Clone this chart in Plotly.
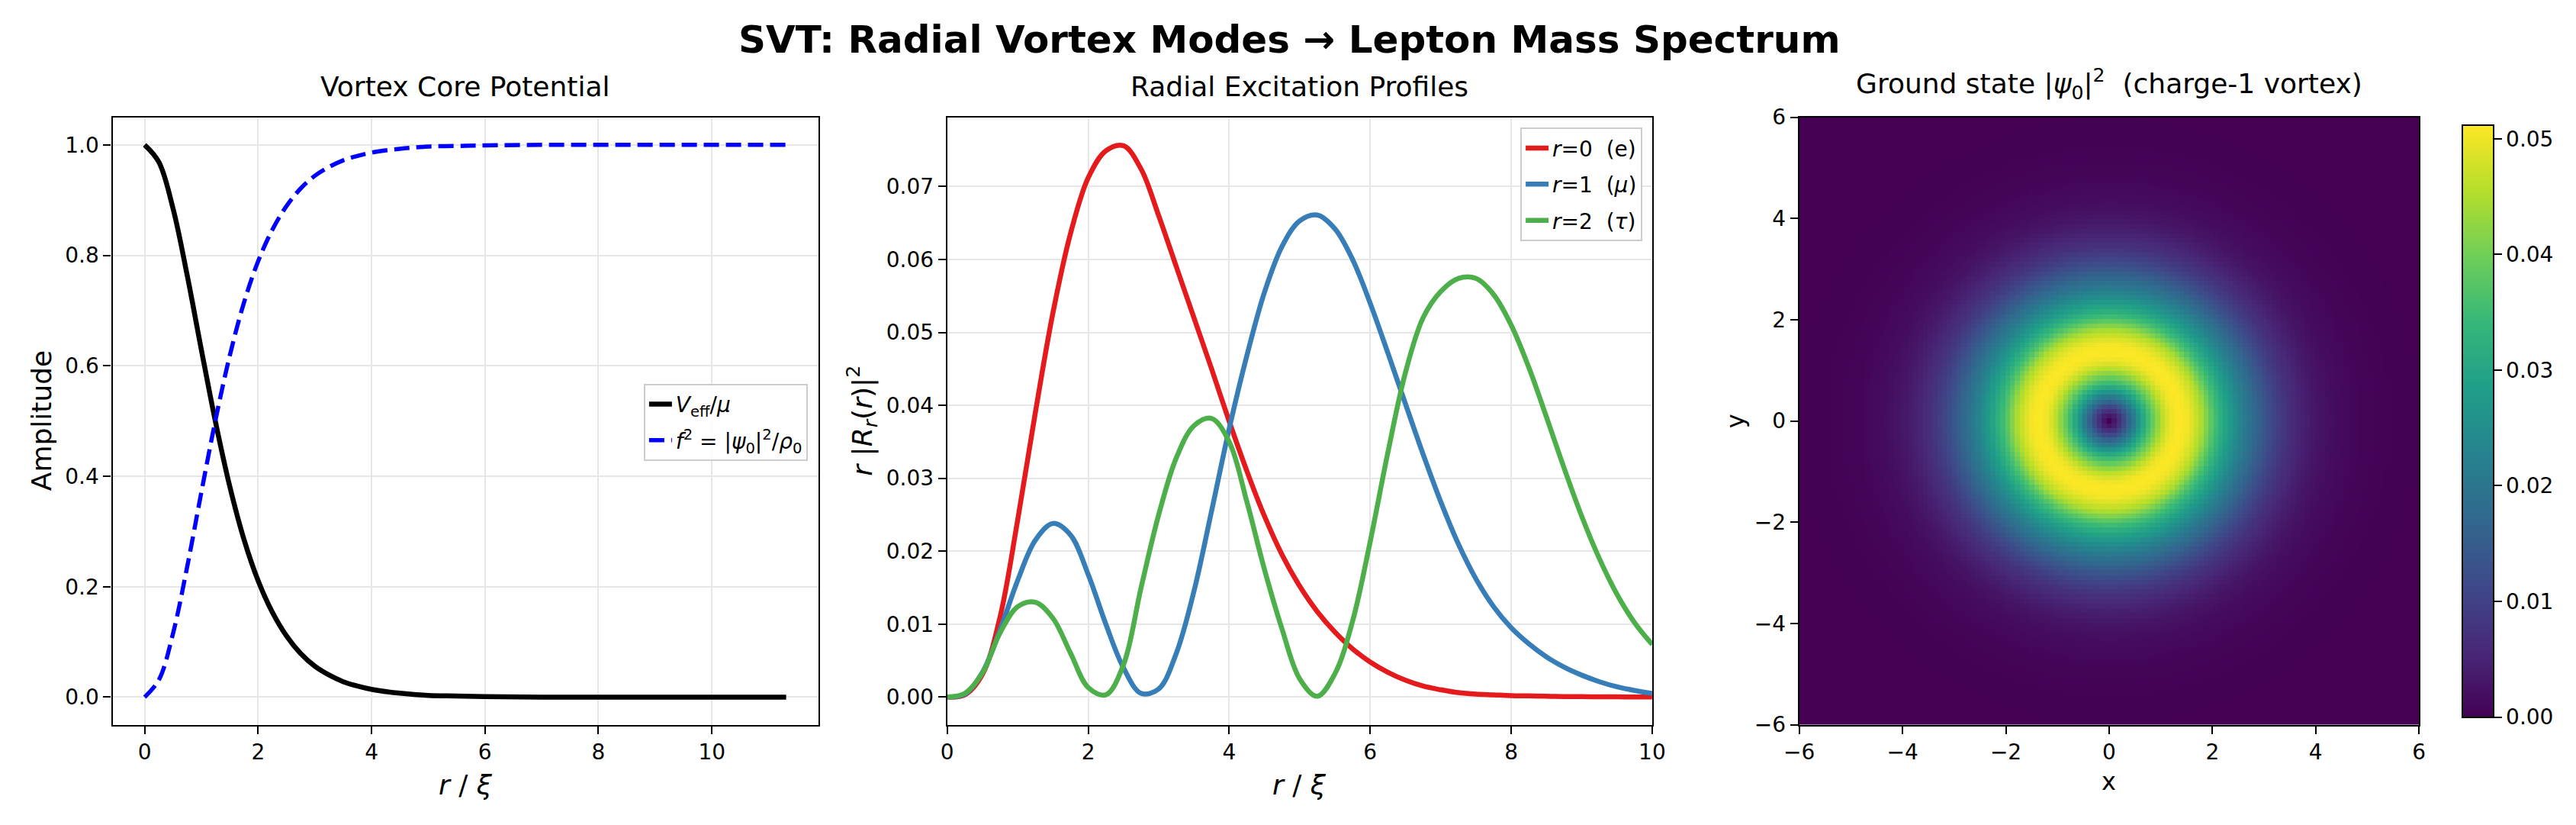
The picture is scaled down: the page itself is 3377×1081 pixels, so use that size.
import numpy as np
import plotly.graph_objects as go

# ---------------- data ----------------
# Left panel: vortex core potential
r_core = [0, 0.25, 0.5, 0.75, 1.0, 1.25, 1.5, 1.75, 2.0, 2.25, 2.5, 2.75, 3.0,
          3.25, 3.5, 3.75, 4.0, 4.5, 5.0, 5.5, 6.0, 7.0, 8.0, 9.0, 10.0, 11.31]
v_eff = [1.0, 0.969, 0.885, 0.764, 0.629, 0.498, 0.382, 0.286, 0.211, 0.154, 0.111,
         0.079, 0.056, 0.040, 0.028, 0.020, 0.014, 0.007, 0.003, 0.002, 0.001, 0.0,
         0.0, 0.0, 0.0, 0.0]
f_sq = [0.0, 0.031, 0.115, 0.236, 0.371, 0.502, 0.618, 0.714, 0.789, 0.846, 0.889,
        0.921, 0.944, 0.960, 0.972, 0.980, 0.986, 0.993, 0.997, 0.998, 0.999, 1.0,
        1.0, 1.0, 1.0, 1.0]

# Middle panel: radial excitation profiles r|R_r(r)|^2, sampled every 0.25 in r/xi
r_modes = [0, 0.25, 0.5, 0.75, 1.0, 1.25, 1.5, 1.75, 2.0, 2.25, 2.5, 2.75, 3.0, 3.25,
           3.5, 3.75, 4.0, 4.25, 4.5, 4.75, 5.0, 5.25, 5.5, 5.75, 6.0, 6.25, 6.5, 6.75,
           7.0, 7.25, 7.5, 7.75, 8.0, 8.25, 8.5, 8.75, 9.0, 9.25, 9.5, 9.75, 10.0]
v_e = [0, 0.0003, 0.0031, 0.0110, 0.0243, 0.0390, 0.0527, 0.0636, 0.0712, 0.0749,
       0.0756, 0.0724, 0.0660, 0.0590, 0.0520, 0.0450, 0.0378, 0.0310, 0.0248, 0.0195,
       0.0152, 0.0117, 0.0089, 0.0066, 0.0048, 0.0034, 0.0023, 0.0015, 0.0010, 0.0006,
       0.0004, 0.0003, 0.0002, 0.00015, 0.0001, 0.00007, 0.00005, 0.00003, 0.00002,
       0.00001, 0.0]
v_mu = [0, 0.0004, 0.0034, 0.0092, 0.0160, 0.0215, 0.0238, 0.0222, 0.0168, 0.0100,
        0.0040, 0.0005, 0.0011, 0.0060, 0.0145, 0.0255, 0.0368, 0.0468, 0.0555, 0.0618,
        0.0653, 0.0661, 0.0642, 0.0600, 0.0540, 0.0472, 0.0402, 0.0333, 0.0268, 0.0210,
        0.0162, 0.0124, 0.0095, 0.0073, 0.0055, 0.0041, 0.0030, 0.0021, 0.0014, 0.0009,
        0.0005]
v_tau = [0, 0.0005, 0.0033, 0.0088, 0.0124, 0.0130, 0.0108, 0.0060, 0.0013, 0.0003,
         0.0044, 0.0150, 0.0250, 0.0328, 0.0372, 0.0382, 0.0350, 0.0268, 0.0175, 0.0093,
         0.0025, 0.0001, 0.0032, 0.0104, 0.0213, 0.0335, 0.0445, 0.0520, 0.0556, 0.0574,
         0.0574, 0.0552, 0.0510, 0.0452, 0.0384, 0.0314, 0.0248, 0.0190, 0.0141, 0.0102,
         0.0072]

# Right panel: radial profile of |psi_0|^2 (read along a ray from the centre)
ring_r = [0, 0.15, 0.3, 0.45, 0.6, 0.75, 0.9, 1.05, 1.2, 1.35, 1.5, 1.65, 1.8, 2.0,
          2.2, 2.45, 2.7, 2.95, 3.2, 3.45, 3.7, 4.0, 4.4, 4.8, 5.3, 6.0, 7.0, 8.5]
ring_val = [0, 0.005, 0.012, 0.020, 0.028, 0.035, 0.041, 0.0465, 0.050, 0.0512,
            0.0505, 0.048, 0.0445, 0.037, 0.031, 0.025, 0.0195, 0.0148, 0.0105,
            0.0072, 0.0050, 0.0030, 0.0015, 0.0007, 0.00025, 0.00006, 0.00001, 0.0]
grid_n = 129
grid_lim = 6.0

# ---------------- figure ----------------
W, H = 3377, 1081
FONT = "DejaVu Sans"
TICK = 28
LAB = 36

fig = go.Figure()

fig.add_trace(go.Scatter(x=r_core, y=v_eff, mode="lines", line=dict(color="black", width=6.5, shape="spline"),
                         name="<i>V</i><sub>eff</sub>/<i>μ</i>", legendgroup="a",
                         xaxis="x", yaxis="y", legend="legend"))
fig.add_trace(go.Scatter(x=r_core, y=f_sq, mode="lines",
                         line=dict(color="#0000ff", width=5.5, dash="20px,9px", shape="spline"),
                         name="<i>f</i><sup>2</sup> = |<i>ψ</i><sub>0</sub>|<sup>2</sup>/<i>ρ</i><sub>0</sub>",
                         legendgroup="b", xaxis="x", yaxis="y", legend="legend"))

for vv, col, nm, g in [(v_e, "#e41a1c", "<i>r</i>=0  (e)", "c"),
                       (v_mu, "#377eb8", "<i>r</i>=1  (<i>μ</i>)", "d"),
                       (v_tau, "#4daf4a", "<i>r</i>=2  (<i>τ</i>)", "e")]:
    fig.add_trace(go.Scatter(x=r_modes, y=vv, mode="lines", line=dict(color=col, width=6.5, shape="spline"),
                             name=nm, legendgroup=g, xaxis="x2", yaxis="y2", legend="legend2"))

gx = np.linspace(-grid_lim, grid_lim, grid_n)
GX, GY = np.meshgrid(gx, gx)
Z = np.interp(np.hypot(GX, GY), ring_r, ring_val)
fig.add_trace(go.Heatmap(x=gx, y=gx, z=Z, colorscale="Viridis", zmin=0, zmax=0.0512,
                         xaxis="x3", yaxis="y3", showlegend=False,
                         colorbar=dict(x=3234 / W, xanchor="left", thickness=41, thicknessmode="pixels",
                                       len=821 / H, lenmode="fraction", y=1 - 963 / H, yanchor="bottom",
                                       outlinecolor="black", outlinewidth=2, ticks="outside", ticklen=10,
                                       tickwidth=2, tickcolor="black", tickformat=".2f", dtick=0.01, tick0=0,
                                       tickfont=dict(family=FONT, size=TICK, color="black"))))

ydom = [1 - 963 / H, 1 - 142 / H]
axbase = dict(showline=True, linecolor="black", linewidth=2.2, mirror=True, ticks="outside",
              ticklen=10, tickwidth=2.2, tickcolor="black", zeroline=False,
              tickfont=dict(family=FONT, size=TICK, color="black"))
grid = dict(showgrid=True, gridcolor="#e6e6e6", gridwidth=2)


def ann(text, x, y, size, angle=0, xanchor="center", yanchor="middle"):
    return dict(text=text, x=x / W, y=1 - y / H, xref="paper", yref="paper", showarrow=False,
                xanchor=xanchor, yanchor=yanchor, textangle=angle,
                font=dict(family=FONT, size=size, color="black"))


ymid = (142 + 963) / 2
fig.update_layout(
    width=W, height=H, margin=dict(l=0, r=0, t=0, b=0),
    paper_bgcolor="white", plot_bgcolor="white",
    font=dict(family=FONT, color="black"),
    xaxis=dict(domain=[128 / W, 1064 / W], range=[-0.566, 11.876], dtick=2, tick0=0, **axbase, **grid),
    yaxis=dict(domain=ydom, range=[-0.05, 1.05], dtick=0.2, tick0=0, tickformat=".1f", **axbase, **grid),
    xaxis2=dict(domain=[1235 / W, 2170 / W], range=[0, 10], dtick=2, tick0=0, anchor="y2", **axbase, **grid),
    yaxis2=dict(domain=ydom, range=[-0.0038, 0.0795], dtick=0.01, tick0=0, tickformat=".2f", anchor="x2",
                **axbase, **grid),
    xaxis3=dict(domain=[2365 / W, 3187 / W], range=[-6, 6], dtick=2, tick0=0, anchor="y3",
                showgrid=False, **axbase),
    yaxis3=dict(domain=ydom, range=[-6, 6], dtick=2, tick0=0, anchor="x3", showgrid=False, **axbase),
    legend=dict(x=1050 / W, xanchor="right", y=1 - 502 / H, yanchor="top",
                bgcolor="rgba(255,255,255,0.85)", bordercolor="#cccccc", borderwidth=2,
                font=dict(family=FONT, size=28, color="black"), tracegroupgap=8),
    legend2=dict(x=2157 / W, xanchor="right", y=1 - 156 / H, yanchor="top",
                 bgcolor="rgba(255,255,255,0.85)", bordercolor="#cccccc", borderwidth=2,
                 font=dict(family=FONT, size=28, color="black"), tracegroupgap=8),
    annotations=[
        ann("<b>SVT: Radial Vortex Modes → Lepton Mass Spectrum</b>", W / 2, 37, 50),
        ann("Vortex Core Potential", (128 + 1064) / 2, 124, 36, yanchor="bottom"),
        ann("Radial Excitation Profiles", (1235 + 2170) / 2, 124, 36, yanchor="bottom"),
        ann("Ground state |<i>ψ</i><sub>0</sub>|<sup>2</sup>  (charge-1 vortex)", (2365 + 3187) / 2, 126, 36,
            yanchor="bottom"),
        ann("Amplitude", 34, ymid, 36, angle=-90),
        ann("<i>r</i> / <i>ξ</i>", (128 + 1064) / 2, 1044, 36),
        ann("<i>r</i> |<i>R</i><sub><i>r</i></sub>(<i>r</i>)|<sup>2</sup>", 1122, ymid, 36, angle=-90),
        ann("<i>r</i> / <i>ξ</i>", (1235 + 2170) / 2, 1044, 36),
        ann("x", (2365 + 3187) / 2, 1040, 32),
        ann("y", 2280, ymid, 32, angle=-90),
    ],
)

fig.write_html("out.html")
